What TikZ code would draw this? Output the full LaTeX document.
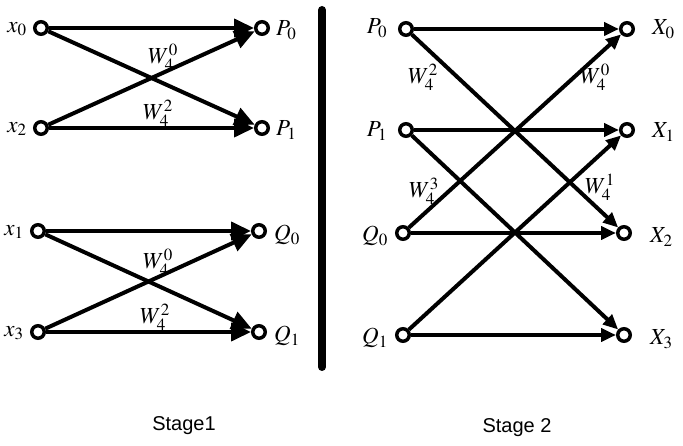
\documentclass[tikz,border=0pt]{standalone}
\usepackage{mathptmx}
\usepackage{fontspec}
\setsansfont{Liberation Sans}
\usetikzlibrary{arrows.meta}
\tikzset{
  dot/.style={circle, draw, line width=3.5pt, minimum size=12.5pt, inner sep=0pt},
  wire/.style={line width=4pt, -{Triangle[length=20pt,width=18pt]}},
  wiretwo/.style={line width=4pt, -{Triangle[length=15pt,width=13pt]}},
  lbl/.style={font=\fontsize{23}{25}\selectfont, inner sep=0pt},
  stagetxt/.style={font=\sffamily\fontsize{20}{22}\selectfont},
}
\begin{document}
\begin{tikzpicture}[x=1pt, y=-1pt]
\useasboundingbox (0,0) rectangle (683,446);

% stage 1
\node[dot] (x0) at (41,28)  {};
\node[dot] (x2) at (41,128) {};
\node[dot] (P0) at (262,28)  {};
\node[dot] (P1) at (262,128) {};
\node[dot] (x1) at (38,231) {};
\node[dot] (x3) at (38,332) {};
\node[dot] (Q0) at (259,231) {};
\node[dot] (Q1) at (259,332) {};

\node[lbl] (lx0) at (17,29)  {$x_0$};
\node[lbl] (lx2) at (17,129) {$x_2$};
\node[lbl] (lx1) at (14,232) {$x_1$};
\node[lbl] (lx3) at (14,333) {$x_3$};
\node[lbl, anchor=west] (lP0) at (276,30)  {$P_0$};
\node[lbl, anchor=west] (lP1) at (276,130) {$P_1$};
\node[lbl, anchor=west] (lQ0) at (274,235) {$Q_0$};
\node[lbl, anchor=west] (lQ1) at (274,336) {$Q_1$};

\draw[wire] (x0) -- (P0);
\draw[wire] (x0) -- (P1);
\draw[wire] (x2) -- (P0);
\draw[wire] (x2) -- (P1);
\draw[wire] (x1) -- (Q0);
\draw[wire] (x1) -- (Q1);
\draw[wire] (x3) -- (Q0);
\draw[wire] (x3) -- (Q1);

\node[lbl] (wa) at (163,57)  {$W_4^0$};
\node[lbl] (wb) at (158,113) {$W_4^2$};
\node[lbl] (wc) at (158,262) {$W_4^0$};
\node[lbl] (wd) at (155,317) {$W_4^2$};

% divider
\draw[line width=8pt, line cap=round] (322,10) -- (322,367);

% stage 2
\node[dot] (S0) at (406,29)  {};
\node[dot] (S1) at (406,130) {};
\node[dot] (S2) at (403,233) {};
\node[dot] (S3) at (403,335) {};
\node[dot] (X0) at (627,29)  {};
\node[dot] (X1) at (627,130) {};
\node[dot] (X2) at (624,233) {};
\node[dot] (X3) at (624,335) {};

\node[lbl] (lS0) at (377,28)  {$P_0$};
\node[lbl] (lS1) at (377,131) {$P_1$};
\node[lbl] (lS2) at (375,236) {$Q_0$};
\node[lbl] (lS3) at (375,338) {$Q_1$};
\node[lbl, anchor=west] (lX0) at (652,29)  {$X_0$};
\node[lbl, anchor=west] (lX1) at (652,132) {$X_1$};
\node[lbl, anchor=west] (lX2) at (650,237) {$X_2$};
\node[lbl, anchor=west] (lX3) at (650,339) {$X_3$};

\draw[wiretwo] (S0) -- (X0);
\draw[wiretwo] (S0) -- (X2);
\draw[wiretwo] (S1) -- (X1);
\draw[wiretwo] (S1) -- (X3);
\draw[wiretwo] (S2) -- (X0);
\draw[wiretwo] (S2) -- (X2);
\draw[wiretwo] (S3) -- (X1);
\draw[wiretwo] (S3) -- (X3);

\node[lbl] (we) at (423,77)  {$W_4^2$};
\node[lbl] (wf) at (595,77)  {$W_4^0$};
\node[lbl] (wg) at (424,191) {$W_4^3$};
\node[lbl] (wh) at (600,187) {$W_4^1$};

\node[stagetxt] (st1) at (184,426) {Stage1};
\node[stagetxt] (st2) at (517,428) {Stage 2};
\end{tikzpicture}
\end{document}
